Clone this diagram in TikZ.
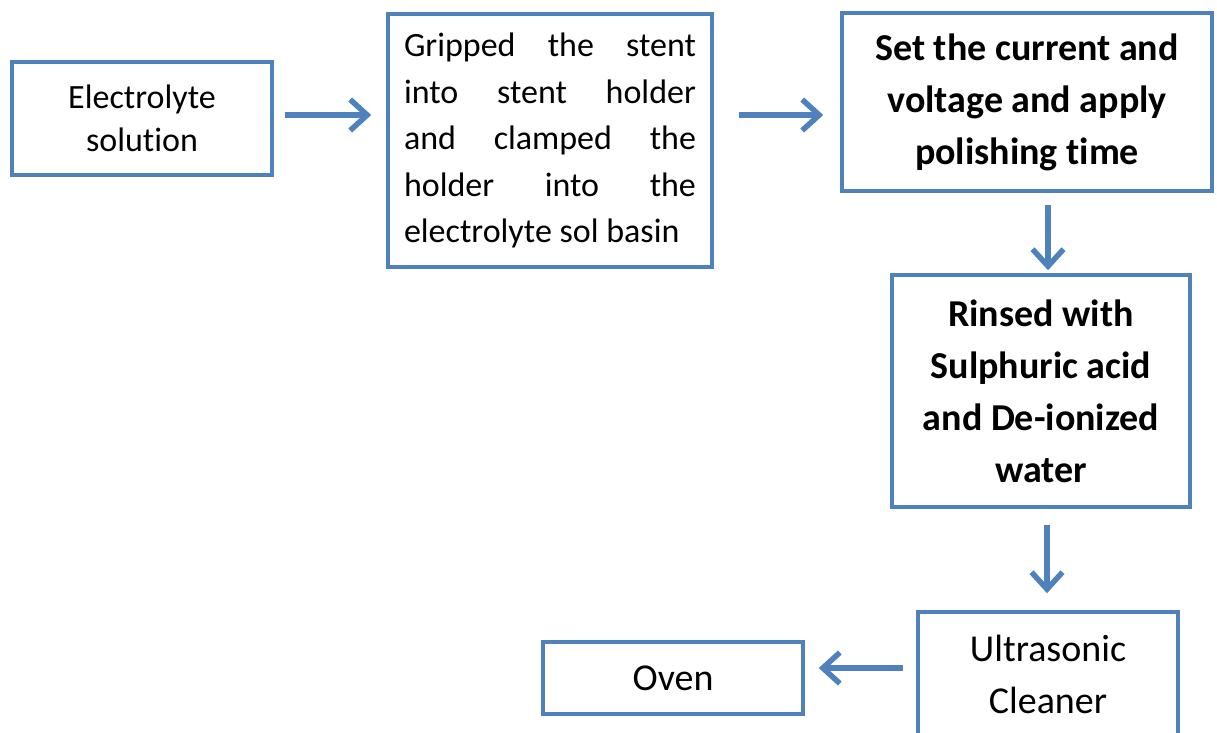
\documentclass[tikz,border=0pt]{standalone}
\usepackage{fontspec}
\setmainfont{Carlito}[Ligatures=NoCommon]
\usetikzlibrary{arrows.meta,calc}
\definecolor{boxblue}{HTML}{4F81BD}
\tikzset{
  stepbox/.style={draw=boxblue, line width=3.5pt, rectangle, inner sep=0pt, align=center, text=black},
  arr/.style={draw=boxblue, line width=5.5pt, -{Straight Barb[length=17pt,width=31pt]}},
  bigfont/.style={font=\fontsize{38}{52}\selectfont},
  midfont/.style={font=\fontsize{34}{43}\selectfont}
}
\begin{document}
\begin{tikzpicture}[x=1pt,y=-1pt]
\useasboundingbox (0,0) rectangle (1217,732);
\node[stepbox, midfont, minimum width=260pt, minimum height=113pt] (b1) at (142,118.5) {Electrolyte\\solution};
\node[stepbox, minimum width=324pt, minimum height=253pt, font=\fontsize{34}{46.5}\selectfont, align=left] (b2) at (550,140.5)
 {\hbox to 292pt{Gripped\hfill the\hfill stent}\\
  \hbox to 292pt{into\hfill stent\hfill holder}\\
  \hbox to 292pt{and\hfill clamped\hfill the}\\
  \hbox to 292pt{holder\hfill into\hfill the}\\
  \hbox to 292pt{electrolyte sol basin\hfil}};
\node[stepbox, bigfont, minimum width=370pt, minimum height=178pt] (b3) at (1027,102) {\bfseries Set the current and\\\bfseries voltage and apply\\\bfseries polishing time};
\node[stepbox, bigfont, minimum width=298pt, minimum height=232pt] (b4) at (1041,391) {\bfseries Rinsed with\\\bfseries Sulphuric acid\\\bfseries and De-ionized\\\bfseries water};
\node[stepbox, bigfont, minimum width=260pt, minimum height=124pt] (b5) at (1048,674) {Ultrasonic\\Cleaner};
\node[stepbox, bigfont, minimum width=260pt, minimum height=72pt] (b6) at (673,678) {Oven};
\draw[arr] ($(b1.east)+(11,-3.5)$) -- ($(b1.east -| b2.west)+(-15,-3.5)$);
\draw[arr] ($(b2.east)+(25,-25.5)$) -- ($(b2.east -| b3.west)+(-17,-25.5)$);
\draw[arr] ($(b3.south)+(21,12)$) -- ($(b4.north)+(7,-3)$);
\draw[arr] ($(b4.south)+(6,16)$) -- ($(b5.north)+(-1,-17)$);
\draw[arr] ($(b5.west)+(-13,-6)$) -- ($(b6.east)+(14,-10)$);
\end{tikzpicture}
\end{document}
